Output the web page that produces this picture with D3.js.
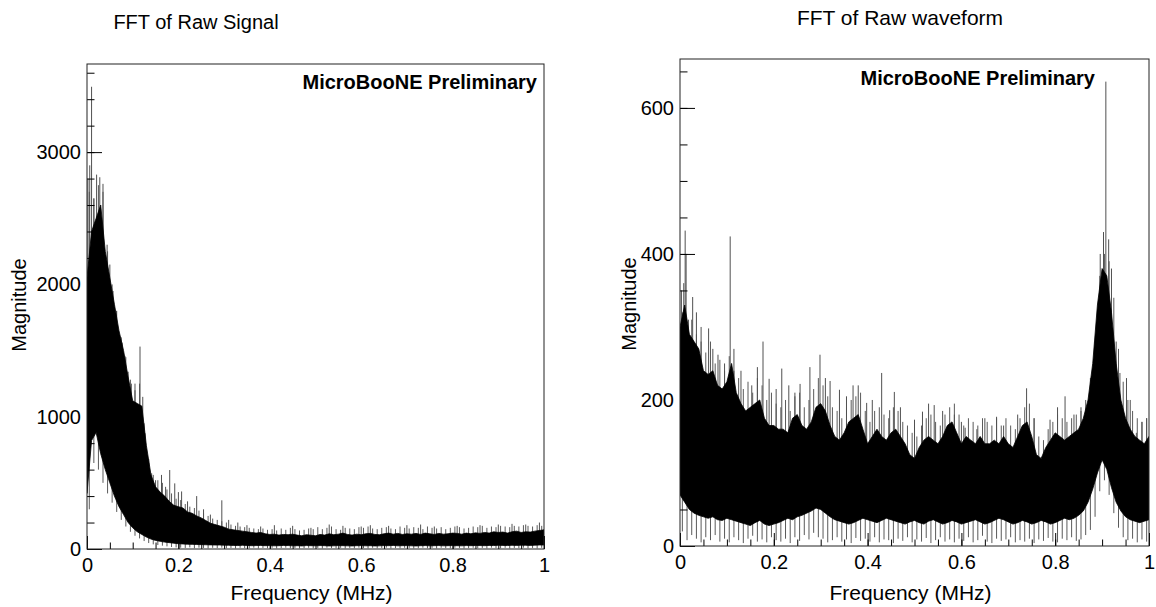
<!DOCTYPE html>
<html><head><meta charset="utf-8">
<script src="https://cdn.jsdelivr.net/npm/d3@7"></script>
<style>
body{margin:0;background:#fff}
svg{display:block}
text{font-family:"Liberation Sans",Arial,Helvetica,sans-serif;fill:#000}
</style>
</head><body>
<svg id="chart" width="1156" height="607"></svg>
<script>
// ---------- DATA ----------
// frequency grid (MHz): band edges every 0.01 MHz, fringe lines at the half steps
const freqGrid = d3.range(0, 101).map(i => i / 100);
const fringeGrid = d3.range(0, 100).map(i => (i + 0.5) / 100);

// Left panel "FFT of Raw Signal": upper / lower edge of the dense band
const signalHi = [2050,2400,2500,2600,2250,2050,1850,1650,1500,1300,
  1120,1100,1080,780,560,470,430,400,360,330,
  320,310,280,270,250,235,215,195,185,175,
  165,150,145,140,135,130,125,120,125,115,
  110,112,105,110,108,112,105,100,108,104,
  100,110,105,115,108,112,120,110,105,112,
  108,115,118,110,108,115,120,112,118,110,
  115,112,118,110,120,115,110,118,112,115,
  120,118,112,120,115,122,118,125,120,130,
  125,128,120,130,135,125,130,128,135,140,145];
const signalLo = [420,820,880,720,600,500,400,320,260,200,
  160,130,110,90,75,65,58,52,48,44,
  40,38,36,35,34,33,32,31,30,30,
  29,28,27,26,28,27,25,26,27,25,
  26,24,25,27,26,24,25,23,26,25,
  24,26,25,23,24,26,25,24,23,25,
  26,24,25,23,24,26,25,27,24,25,
  26,24,23,25,26,24,25,26,24,25,
  26,25,24,26,25,27,26,25,27,26,
  28,27,26,28,27,29,28,27,29,30,30];
// fringe of thin lines around the band (top and bottom values at half steps)
const signalFringeTop = [2700,2650,2750,2700,2250,2000,1800,1600,1450,1280,
  1250,1250,950,650,560,520,500,450,420,380,
  370,340,320,310,290,270,250,230,220,210,
  200,185,175,170,165,160,155,150,155,145,
  150,140,155,145,160,150,140,145,155,150,
  165,150,160,170,150,145,160,155,150,165,
  160,170,155,150,160,165,155,150,170,160,
  155,165,160,150,170,160,155,165,150,160,
  170,165,155,160,170,165,175,160,170,165,
  175,170,165,175,170,180,175,170,180,175];
const signalFringeBot = [300,650,600,500,420,350,280,220,170,130,
  100,80,60,45,35,30,25,20,15,12,
  10,8,12,6,10,8,5,9,7,10,
  6,8,5,9,7,6,10,5,8,6,
  9,5,7,10,6,8,5,7,9,6,
  8,5,10,7,6,9,5,8,6,10,
  7,5,9,6,8,10,5,7,6,9,
  8,5,7,10,6,8,5,9,7,6,
  10,8,5,7,9,6,8,5,10,7,
  6,9,5,8,7,10,6,8,5,9];
// isolated spikes above the band
const signalSpikeF = [0.002,0.006,0.010,0.015,0.021,0.028,0.035,0.044,0.050,0.057,0.064,0.069,0.077,0.083,0.090,0.097,0.105,0.116,0.122,0.127,0.135,0.1415,0.150,0.163,0.172,0.181,0.192,0.200,0.207,0.220,0.240,0.255,0.270,0.295,0.310,0.330,0.350,0.380,0.410,0.450,0.490,0.530,0.560,0.600,0.620,0.660,0.700,0.730,0.760,0.810,0.860,0.900,0.930,0.960,0.990];
const signalSpikeV = [2800,2900,3494,2650,2830,2810,2760,2300,2150,1950,1800,1630,1560,1460,1340,1250,1200,1530,1150,875,680,572,520,560,470,597,496,430,435,360,400,300,260,368,220,200,180,170,180,175,160,185,175,170,180,175,180,185,170,175,180,185,190,185,200];

// Right panel "FFT of Raw waveform"
const waveHi = [300,330,290,280,270,240,235,240,220,215,
  225,250,210,195,185,190,195,200,175,165,
  165,160,160,155,175,180,165,160,170,190,
  195,185,165,150,145,155,170,175,180,160,
  140,150,160,150,145,155,160,150,140,125,
  120,135,145,150,145,140,150,165,170,155,
  140,150,145,140,150,140,140,145,140,150,
  140,135,150,165,170,150,125,120,135,145,
  155,150,145,150,155,160,175,200,250,330,
  380,370,320,250,200,175,160,150,145,140,150];
const waveLo = [70,60,50,45,42,40,38,40,36,35,
  38,36,34,32,30,28,32,35,30,28,
  30,32,35,38,36,40,42,45,48,52,
  50,45,40,36,34,32,30,32,35,38,
  36,34,32,35,38,36,34,32,30,33,
  35,32,30,34,36,33,30,32,35,33,
  30,32,34,36,33,30,32,35,38,36,
  33,30,32,35,33,30,32,35,33,30,
  32,35,38,36,38,42,48,60,78,100,
  118,105,80,60,48,40,36,34,32,34,36];
const waveFringeTop = [320,300,310,290,280,265,280,250,255,240,
  260,240,230,215,225,210,230,220,200,210,
  195,190,200,185,205,210,190,200,215,230,
  220,205,190,185,175,190,200,205,210,185,
  170,185,190,180,175,190,185,170,165,155,
  150,165,175,180,170,165,180,190,195,180,
  165,175,170,165,175,170,165,175,165,175,
  165,160,175,190,195,175,150,145,160,170,
  180,175,170,175,180,185,200,230,280,370,
  400,390,340,270,225,200,185,175,170,175];
const waveFringeBot = [20,8,15,10,5,12,8,15,6,10,
  5,12,8,4,10,14,6,9,5,12,
  8,6,10,4,12,7,15,9,18,12,
  10,5,8,12,6,9,4,11,7,10,
  6,12,5,9,8,4,10,7,12,5,
  9,6,11,4,8,12,6,9,5,10,
  7,12,5,8,14,6,4,10,7,9,
  12,5,8,6,10,4,9,7,11,6,
  5,10,8,12,7,9,15,22,40,75,
  90,70,45,25,12,8,10,5,9,6];
const waveSpikeF = [0.003,0.008,0.011,0.013,0.018,0.027,0.035,0.045,0.061,0.070,0.081,0.095,0.107,0.115,0.130,0.153,0.165,0.177,0.190,0.205,0.217,0.232,0.245,0.256,0.277,0.2985,0.310,0.320,0.340,0.355,0.369,0.380,0.398,0.410,0.430,0.447,0.457,0.470,0.500,0.517,0.530,0.542,0.560,0.585,0.600,0.608,0.633,0.650,0.675,0.690,0.720,0.739,0.755,0.789,0.805,0.821,0.840,0.855,0.867,0.878,0.890,0.896,0.903,0.908,0.914,0.920,0.930,0.938,0.952,0.960,0.973,0.985,0.995];
const waveSpikeV = [350,360,432,399,310,341,320,300,298,270,262,250,424,270,240,220,245,280,229,215,243,220,210,222,245,262,230,226,214,205,220,220,196,200,237,186,211,190,173,184,195,193,185,180,170,162,160,175,177,165,180,216,175,173,190,205,180,190,173,230,280,400,430,636,420,380,280,237,230,200,155,170,175];

const xTickVals = [0, 0.2, 0.4, 0.6, 0.8, 1];
const xTickLabels = ["0", "0.2", "0.4", "0.6", "0.8", "1"];
const xMinorVals = d3.range(0, 21).map(i => i * 0.05);
const signalYTicks = [0, 1000, 2000, 3000];
const signalYTickLabels = ["0", "1000", "2000", "3000"];
const waveYTicks = [0, 200, 400, 600];
const waveYTickLabels = ["0", "200", "400", "600"];

// ---------- DRAWING ----------
const svg = d3.select("#chart");
const FONT = '"Liberation Sans", Arial, Helvetica, sans-serif';

function panel(cfg) {
  const g = svg.append("g");
  const x = d3.scaleLinear().domain([0, 1]).range([cfg.left, cfg.right]);
  const y = d3.scaleLinear().domain([0, cfg.yMax]).range([cfg.bottom, cfg.top]);

  const clip = "clip" + cfg.id;
  svg.append("clipPath").attr("id", clip).append("rect")
    .attr("x", cfg.left).attr("y", cfg.top)
    .attr("width", cfg.right - cfg.left).attr("height", cfg.bottom - cfg.top);
  const data = g.append("g").attr("clip-path", `url(#${clip})`);

  // fringe lines (thin grey verticals spanning the noisy band)
  data.selectAll("line.fr").data(fringeGrid).join("line").attr("class", "fr")
    .attr("x1", d => x(d)).attr("x2", d => x(d))
    .attr("y1", (d, i) => y(cfg.fBot[i]))
    .attr("y2", (d, i) => y(cfg.fTop[i]))
    .attr("stroke", "#5a5a5a").attr("stroke-width", 1);

  // isolated spikes
  data.selectAll("line.spk").data(cfg.spikeF).join("line").attr("class", "spk")
    .attr("x1", d => x(d)).attr("x2", d => x(d))
    .attr("y1", d => y(cfg.hi[Math.round(d * 100)] * 0.8))
    .attr("y2", (d, i) => y(cfg.spikeV[i]))
    .attr("stroke", "#505050").attr("stroke-width", 1);

  // dense band
  const area = d3.area()
    .x((d, i) => x(freqGrid[i]))
    .y0((d, i) => y(cfg.lo[i]))
    .y1((d, i) => y(cfg.hi[i]));
  data.append("path").datum(cfg.hi).attr("d", area)
    .attr("fill", "#000").attr("stroke", "#000").attr("stroke-width", 0.8);

  // axes (ROOT style: ticks inside the frame)
  const xAxisMinor = d3.axisBottom(x).tickValues(xMinorVals).tickSize(-6.5).tickFormat("");
  const xAxis = d3.axisBottom(x).tickValues(xTickVals).tickSize(-13).tickPadding(9)
    .tickFormat((d, i) => xTickLabels[i]);
  const yAxisMinor = d3.axisLeft(y).tickValues(cfg.yMinor).tickSize(-7.5).tickFormat("");
  const yAxis = d3.axisLeft(y).tickValues(cfg.yTicks).tickSize(-15).tickPadding(6)
    .tickFormat((d, i) => cfg.yTickLabels[i]);

  [[xAxisMinor, "b"], [xAxis, "b"], [yAxisMinor, "l"], [yAxis, "l"]].forEach(([ax, side]) => {
    const a = g.append("g")
      .attr("transform", side === "b" ? `translate(0,${cfg.bottom})` : `translate(${cfg.left},0)`)
      .call(ax);
    a.select(".domain").remove();
    a.selectAll("line").attr("stroke", "#000");
    a.selectAll("text").style("font-size", "20px").attr("fill", "#000").style("font-family", FONT);
  });

  // frame
  g.append("rect").attr("x", cfg.left).attr("y", cfg.top)
    .attr("width", cfg.right - cfg.left).attr("height", cfg.bottom - cfg.top)
    .attr("fill", "none").attr("stroke", "#222").attr("stroke-width", 1);

  // title
  g.append("text").attr("x", cfg.titleX).attr("y", cfg.titleY)
    .attr("text-anchor", "middle").style("font-size", cfg.titleSize + "px").text(cfg.title);
  // watermark
  g.append("text").attr("x", cfg.wmX).attr("y", cfg.wmY)
    .attr("text-anchor", "end").style("font-size", "20px").style("font-weight", "bold")
    .text("MicroBooNE Preliminary");
  // axis titles
  g.append("text").attr("x", (cfg.left + cfg.right) / 2 - 4).attr("y", 600)
    .attr("text-anchor", "middle").style("font-size", "21px").text("Frequency (MHz)");
  g.append("text").attr("transform", `translate(${cfg.yLabelX},${cfg.yLabelY}) rotate(-90)`)
    .attr("text-anchor", "middle").style("font-size", "20px").text("Magnitude");
}

panel({
  id: "L", left: 87, right: 544, top: 64, bottom: 549, yMax: 3666,
  hi: signalHi, lo: signalLo, fTop: signalFringeTop, fBot: signalFringeBot,
  spikeF: signalSpikeF, spikeV: signalSpikeV,
  yTicks: signalYTicks, yTickLabels: signalYTickLabels,
  yMinor: d3.range(0, 19).map(i => i * 200),
  title: "FFT of Raw Signal", titleX: 196, titleY: 29, titleSize: 20,
  wmX: 537, wmY: 89, yLabelX: 26, yLabelY: 305
});
panel({
  id: "R", left: 680, right: 1149, top: 59, bottom: 546, yMax: 667,
  hi: waveHi, lo: waveLo, fTop: waveFringeTop, fBot: waveFringeBot,
  spikeF: waveSpikeF, spikeV: waveSpikeV,
  yTicks: waveYTicks, yTickLabels: waveYTickLabels,
  yMinor: d3.range(0, 14).map(i => i * 50),
  title: "FFT of Raw waveform", titleX: 900, titleY: 25, titleSize: 21,
  wmX: 1095, wmY: 85, yLabelX: 636, yLabelY: 304
});
</script>
</body></html>
